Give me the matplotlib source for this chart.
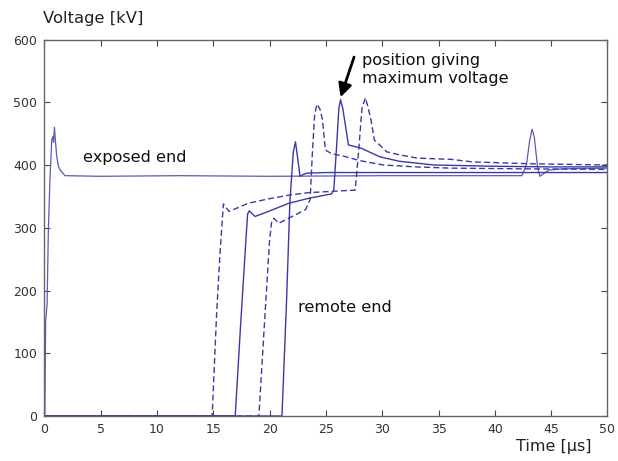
import matplotlib
matplotlib.use("Agg")
import matplotlib.pyplot as plt

# exposed end of the cable
exp_t = [0, 0.05, 0.08, 0.12, 0.25, 0.36, 0.5, 0.66, 0.75, 0.82, 0.9, 0.98, 1.1, 1.25, 1.4, 1.84,
         5, 12, 20, 30, 42.4, 42.8, 43.1, 43.3, 43.5, 43.8, 44.0, 44.3, 44.8, 46, 50]
exp_v = [0, 0, 70, 150, 180, 297, 376, 440, 445, 436, 460, 440, 414, 398, 392, 383,
         382, 383, 382, 383, 383, 400, 440, 457, 445, 395, 382, 386, 392, 394, 395]

# positions along the cable (dashed / solid alternate)
d1_t = [0, 14.9, 15.3, 15.6, 15.9, 16.4, 18.1, 19.9, 21.7, 23.5, 25.5, 27.6, 27.9, 28.2, 28.5,
        28.7, 29.0, 29.3, 30.4, 31.6, 33.1, 36.1, 38, 43, 50]
d1_v = [0, 0, 164, 260, 338, 326, 339, 346, 352, 356, 358, 360, 420, 490, 507,
        495, 472, 440, 421, 416, 411, 409, 405, 402, 400]

s1_t = [0, 16.95, 17.4, 17.9, 18.05, 18.2, 18.7, 19.9, 21.7, 23.5, 25.5, 25.7, 25.95, 26.15, 26.3,
        26.5, 26.7, 27.0, 28.1, 29.8, 31.5, 34.6, 40, 45, 50]
s1_v = [0, 0, 137, 281, 322, 327, 318, 326, 339, 347, 354, 360, 430, 490, 504,
        490, 467, 432, 427, 413, 406, 400, 398, 397, 397]

d2_t = [0, 19.05, 19.6, 20.0, 20.2, 20.4, 20.8, 22.0, 23.2, 23.6, 23.8, 24.0, 24.2, 24.45, 24.7,
        24.95, 25.5, 26.6, 28, 30.1, 33, 36.1, 42, 50]
d2_v = [0, 0, 164, 280, 312, 315, 307, 318, 329, 345, 420, 480, 497, 490, 472,
        424, 418, 414, 407, 400, 397, 395, 394, 393]

# remote end
s2_t = [0, 21.1, 21.5, 21.8, 22.1, 22.3, 22.5, 22.7, 23.0, 23.3, 25, 30, 40, 50]
s2_v = [0, 0, 180, 340, 420, 437, 410, 382, 385, 387, 388, 388, 388, 388]

x_ticks = list(range(0, 51, 5))
y_ticks = list(range(0, 601, 100))

LINE = "#3a3aa6"
DASH = (0, (4.3, 2.3))

fig = plt.figure(figsize=(6.18, 4.61), dpi=100)
ax = fig.add_axes([0.0717, 0.0976, 0.9113, 0.8167])

ax.plot(exp_t, exp_v, color="#5a5ab8", lw=0.9)
ax.plot(s2_t, s2_v, color=LINE, lw=1.0)
ax.plot(s1_t, s1_v, color=LINE, lw=1.0)
ax.plot(d1_t, d1_v, color=LINE, lw=1.0, linestyle=DASH)
ax.plot(d2_t, d2_v, color=LINE, lw=1.0, linestyle=DASH)

ax.set_xlim(0, 50)
ax.set_ylim(0, 600)
ax.set_xticks(x_ticks)
ax.set_yticks(y_ticks)
ax.tick_params(direction="in", length=4, width=0.8, top=True, right=True,
               labelsize=9, labelcolor="#333333", color="#444444", pad=5)
for s in ax.spines.values():
    s.set_color("#666666")
    s.set_linewidth(1.0)

fig.text(0.070, 0.960, "Voltage [kV]", fontsize=11.8, color="#222222", va="center", ha="left")
fig.text(0.957, 0.031, "Time [\u00b5s]", fontsize=11.5, color="#222222", va="center", ha="right")

ax.text(3.4, 412, "exposed end", fontsize=11.6, color="#111111", va="center")
ax.text(22.5, 173, "remote end", fontsize=11.6, color="#111111", va="center")
ax.text(28.2, 552, "position giving\nmaximum voltage", fontsize=11.6, color="#111111",
        va="center", ha="left", linespacing=1.25)
ax.annotate("", xy=(26.3, 508), xytext=(27.5, 572),
            arrowprops=dict(arrowstyle="-|>", color="black", lw=2, mutation_scale=20,
                            shrinkA=0, shrinkB=0))

fig.savefig("out.png", dpi=100, facecolor="white")
